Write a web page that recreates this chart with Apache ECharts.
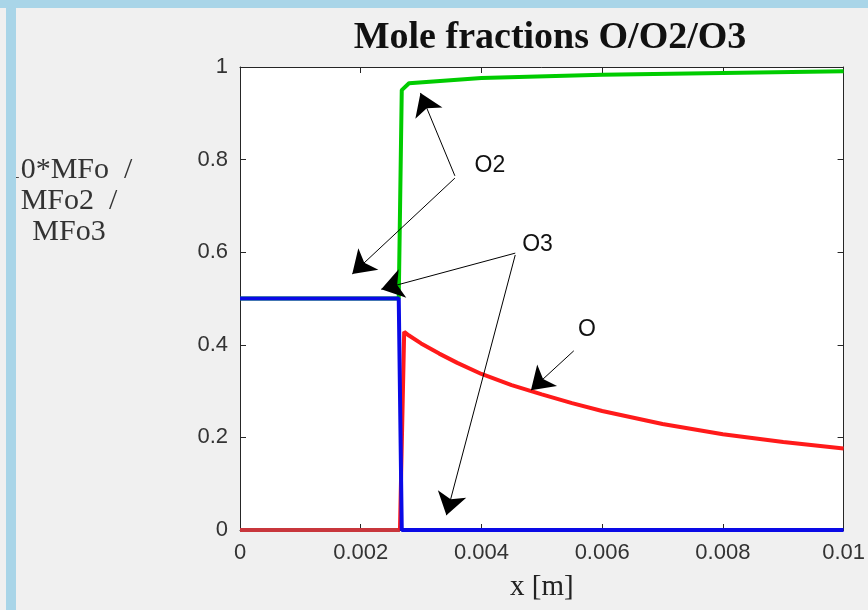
<!DOCTYPE html>
<html>

<head>
    <meta charset="utf-8">
    <script src="https://cdn.jsdelivr.net/npm/echarts@6/dist/echarts.min.js"></script>
    <style>
        body { margin: 0; background: #f0f0f0; }
    </style>
</head>

<body>
    <div id="main" style="width: 868px;height:610px;"></div>
    <script type="text/javascript">
        // 10*MFo (O), MFo2 (O2), MFo3 (O3) along x [m]
        var xO = [0, 0.00265, 0.00272, 0.0028, 0.003, 0.0033, 0.0036, 0.004, 0.0045, 0.005, 0.0055, 0.006, 0.007, 0.008, 0.009, 0.01];
        var yO = [0, 0, 0.428, 0.42, 0.403, 0.381, 0.361, 0.337, 0.313, 0.293, 0.274, 0.257, 0.229, 0.207, 0.19, 0.176];

        var xO2 = [0, 0.00263, 0.00268, 0.0028, 0.004, 0.006, 0.008, 0.01];
        var yO2 = [0.5, 0.5, 0.95, 0.965, 0.976, 0.983, 0.987, 0.991];

        var xO3 = [0, 0.00263, 0.00268, 0.01];
        var yO3 = [0.5, 0.5, 0, 0];

        var xTicks = [0, 0.002, 0.004, 0.006, 0.008, 0.01];
        var yTicks = [0, 0.2, 0.4, 0.6, 0.8, 1];

        // annotation texts and arrows (data coordinates)
        var noteNames = ['O2', 'O3', 'O'];
        var notePos = [[0.00414, 0.786], [0.00493, 0.616], [0.00575, 0.432]];
        var arrowFrom = [[0.00356, 0.765], [0.00356, 0.76], [0.00456, 0.598], [0.00456, 0.594], [0.00553, 0.387]];
        var arrowTo = [[0.00299, 0.944], [0.00186, 0.553], [0.00234, 0.52], [0.00342, 0.032], [0.00482, 0.302]];

        function pairs(xs, ys) {
            return xs.map(function (x, i) { return [x, ys[i]]; });
        }

        var chartDom = document.getElementById('main');
        var myChart = echarts.init(chartDom);
        var option;

        var axisCol = '#262626';
        var tickFont = { fontFamily: 'Liberation Sans', fontSize: 22, color: '#333' };

        function xAxisCfg(top) {
            return {
                type: 'value',
                position: top ? 'top' : 'bottom',
                min: xTicks[0],
                max: xTicks[xTicks.length - 1],
                interval: xTicks[1] - xTicks[0],
                axisLine: { show: true, onZero: false, lineStyle: { color: axisCol, width: 1 } },
                axisTick: { show: true, inside: true, length: 6, lineStyle: { color: axisCol } },
                axisLabel: top ? { show: false } : Object.assign({ margin: 12 }, tickFont),
                splitLine: { show: false },
                name: top ? '' : 'x [m]',
                nameLocation: 'middle',
                nameGap: 43,
                nameTextStyle: { fontFamily: 'Liberation Serif', fontSize: 29, color: '#222' }
            };
        }

        function yAxisCfg(right) {
            return {
                type: 'value',
                position: right ? 'right' : 'left',
                min: yTicks[0],
                max: yTicks[yTicks.length - 1],
                interval: yTicks[1] - yTicks[0],
                axisLine: { show: true, onZero: false, lineStyle: { color: axisCol, width: 1 } },
                axisTick: { show: true, inside: true, length: 6, lineStyle: { color: axisCol } },
                axisLabel: right ? { show: false } : Object.assign({ margin: 12 }, tickFont),
                splitLine: { show: false }
            };
        }

        option = {
            animation: false,
            backgroundColor: '#f0f0f0',
            title: {
                text: 'Mole fractions O/O2/O3',
                left: 545,
                top: 14,
                textAlign: 'center',
                textStyle: { fontFamily: 'Liberation Serif', fontWeight: 'bold', fontSize: 38, color: '#111' }
            },
            grid: {
                left: 240, right: 19, top: 67, bottom: 80,
                show: true, backgroundColor: '#fff', borderWidth: 0
            },
            xAxis: [xAxisCfg(false), xAxisCfg(true)],
            yAxis: [yAxisCfg(false), yAxisCfg(true)],
            graphic: [
                {
                    type: 'text',
                    x: 69, y: 155,
                    z: 10,
                    style: {
                        text: '10*MFo  /\nMFo2  /\nMFo3',
                        align: 'center',
                        fontFamily: 'Liberation Serif',
                        fontSize: 30,
                        lineHeight: 31,
                        fill: '#333'
                    }
                },
                { type: 'rect', z: 20, shape: { x: 0, y: 0, width: 868, height: 8 }, style: { fill: '#a9d5e8' } },
                { type: 'rect', z: 20, shape: { x: 6, y: 0, width: 10, height: 610 }, style: { fill: '#a9d5e8' } }
            ],
            series: [
                {
                    name: 'O (upstream)',
                    type: 'line',
                    data: pairs(xO.slice(0, 2), yO.slice(0, 2)),
                    showSymbol: false,
                    lineStyle: { width: 4, color: '#c8363c' },
                    z: 2
                },
                {
                    name: 'O',
                    type: 'line',
                    data: pairs(xO.slice(1), yO.slice(1)),
                    showSymbol: false,
                    lineStyle: { width: 4, color: '#ff1a1a' },
                    z: 2
                },
                {
                    name: 'O2',
                    type: 'line',
                    data: pairs(xO2, yO2),
                    showSymbol: false,
                    lineStyle: { width: 4, color: '#00cc00' },
                    z: 3
                },
                {
                    name: 'O3',
                    type: 'line',
                    data: pairs(xO3, yO3),
                    showSymbol: false,
                    lineStyle: { width: 4, color: '#0a0ae6' },
                    z: 4,
                    markLine: {
                        silent: true,
                        symbol: ['none', 'arrow'],
                        symbolSize: 22,
                        lineStyle: { color: '#000', width: 1, type: 'solid' },
                        label: { show: false },
                        data: arrowFrom.map(function (p, i) {
                            return [{ coord: p }, { coord: arrowTo[i] }];
                        })
                    },
                    markPoint: {
                        silent: true,
                        symbol: 'circle',
                        symbolSize: 1,
                        itemStyle: { color: 'rgba(0,0,0,0)' },
                        label: {
                            show: true,
                            position: 'inside',
                            formatter: '{b}',
                            fontFamily: 'Liberation Sans',
                            fontSize: 23,
                            color: '#111'
                        },
                        data: noteNames.map(function (n, i) {
                            return { name: n, coord: notePos[i] };
                        })
                    }
                }
            ]
        };
        myChart.setOption(option);
    </script>
</body>

</html>
